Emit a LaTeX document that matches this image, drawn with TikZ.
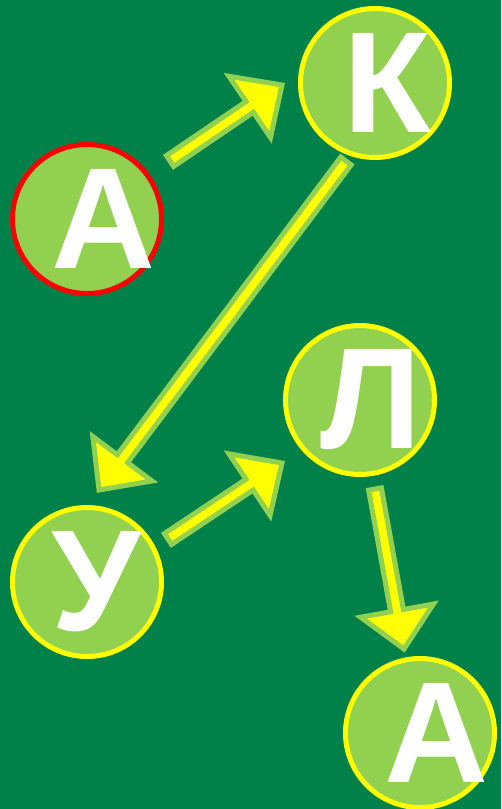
\documentclass[tikz,border=0pt]{standalone}
\usepackage{fontspec}
\usetikzlibrary{calc}
\newfontfamily\letterfont{Liberation Sans}
\definecolor{fieldgreen}{RGB}{0,129,73}
\definecolor{leafgreen}{RGB}{146,208,80}
\definecolor{sunyellow}{RGB}{255,255,0}
\definecolor{alertred}{RGB}{255,0,0}

% block arrow from #1 to #2 (shaft + triangular head)
\newcommand{\blockarrow}[2]{%
  \path[barrow] let \p1=($(#2)-(#1)$), \n1={atan2(\y1,\x1)}, \n2={veclen(\x1,\y1)} in
    ($(#1)+(\n1+90:6.5pt)$) -- ($(#1)+(\n1:\n2-39pt)+(\n1+90:6.5pt)$)
    -- ($(#1)+(\n1:\n2-39pt)+(\n1+90:37pt)$) -- (#2)
    -- ($(#1)+(\n1:\n2-39pt)+(\n1-90:37pt)$) -- ($(#1)+(\n1:\n2-39pt)+(\n1-90:6.5pt)$)
    -- ($(#1)+(\n1-90:6.5pt)$) -- cycle;}

\begin{document}
\begin{tikzpicture}[x=1pt,y=1pt]
  \tikzstyle{ball}=[circle,fill=leafgreen,draw=sunyellow,line width=5pt,
    minimum size=149pt,inner sep=0pt]
  \tikzstyle{letter}=[text=white,inner sep=0pt,
    font=\letterfont\bfseries\fontsize{144}{144}\selectfont]
  \tikzstyle{barrow}=[fill=sunyellow,draw=leafgreen,line width=5pt,line join=miter]

  \fill[fieldgreen] (0,0) rectangle (501,-809);
  \useasboundingbox (0,0) rectangle (501,-809);

  % -- Letters in circles --
  \node[ball,draw=alertred] (a1) at (87,-219) {};
  \node[letter] (a1t) at ([xshift=16pt]a1) {А};
  \node[ball] (k) at (375,-83) {};
  \node[letter] (kt) at ([xshift=12pt]k) {К};
  \node[ball] (l) at (360,-400) {};
  \node[letter] (lt) at ([xshift=11pt]l) {Л};
  \node[ball] (u) at (87,-582) {};
  \node[letter] (ut) at ([xshift=9pt]u) {У};
  \node[ball] (a2) at (420,-733) {};
  \node[letter] (a2t) at ([xshift=16pt]a2) {А};

  % -- Arrow ends --
  \coordinate (ak-s) at (170,-161);
  \coordinate (ak-e) at (282,-85);
  \coordinate (ku-s) at (346,-161);
  \coordinate (ku-e) at (99,-490);
  \coordinate (ul-s) at (168,-539);
  \coordinate (ul-e) at (282,-463);
  \coordinate (la-s) at (375,-489);
  \coordinate (la-e) at (404,-649);

  % -- Arrows --
  \blockarrow{ak-s}{ak-e}
  \blockarrow{ku-s}{ku-e}
  \blockarrow{ul-s}{ul-e}
  \blockarrow{la-s}{la-e}
\end{tikzpicture}
\end{document}
